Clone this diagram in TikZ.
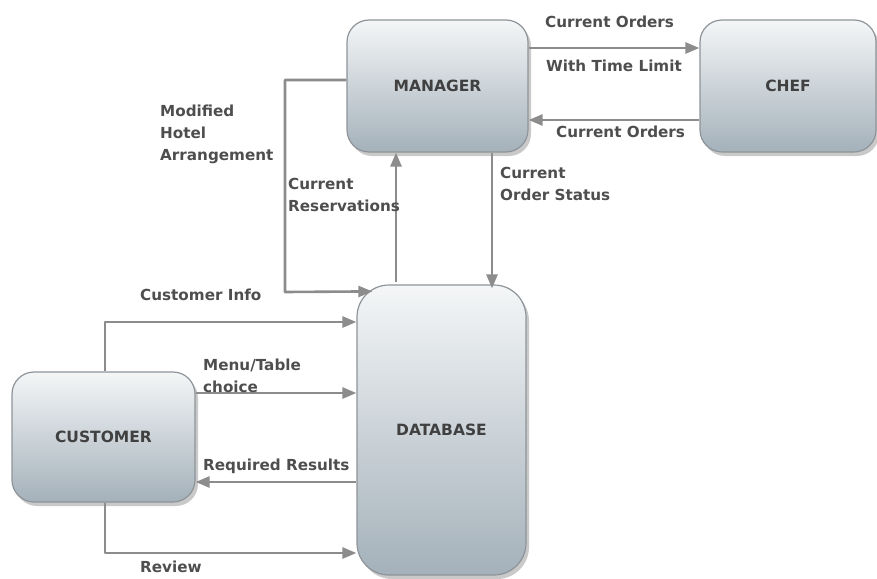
\documentclass[tikz,border=0pt]{standalone}
\usepackage{fontspec}
\setmainfont{DejaVu Sans}
\usepackage{xcolor}
\usetikzlibrary{arrows.meta,calc,shadows}
\definecolor{boxtop}{HTML}{F4F6F7}
\definecolor{boxbot}{HTML}{A4B1BA}
\definecolor{boxline}{HTML}{8E9499}
\definecolor{flowgray}{HTML}{8C8C8C}
\definecolor{txtgray}{HTML}{4E4E4E}

\begin{document}
\begin{tikzpicture}[x=1pt,y=-1pt,>={Triangle[length=14pt,width=11pt]},line join=round,
  proc/.style={rectangle,rounded corners=22pt,draw=boxline,line width=1.2pt,
    top color=boxtop,bottom color=boxbot,
    drop shadow={shadow xshift=3pt,shadow yshift=-4pt,opacity=.3,fill=black!70},
    font=\fontsize{15.5}{18}\selectfont\bfseries,text=black!75},
  flow/.style={->,draw=flowgray,line width=2.6pt},
  lbl/.style={anchor=west,inner sep=0pt,align=left,text=txtgray,
    font=\fontsize{15.2}{22}\selectfont\bfseries}]
  \useasboundingbox (0,0) rectangle (877,578);
  \node[proc,minimum width=181pt,minimum height=132pt] (MGR) at (437.5,86) {MANAGER};
  \node[proc,minimum width=176pt,minimum height=132pt] (CHEF) at (788,86) {CHEF};
  \node[proc,minimum width=183pt,minimum height=130pt] (CUST) at (103.5,437) {CUSTOMER};
  \node[proc,rounded corners=32pt,minimum width=169pt,minimum height=290pt] (DB) at (441.5,430) {DATABASE};
  \coordinate (MH1) at (285,80);
  \coordinate (MH2) at (285,292);
  \coordinate (DBC) at ($(DB.north west)+(16,7)$);
  \draw[flow] ($(MGR.east)+(0,-38)$) -- ($(CHEF.west)+(0,-38)$);
  \draw[flow] ($(CHEF.west)+(0,34)$) -- ($(MGR.east)+(0,34)$);
  \draw[flow] ($(MGR.south)+(54.5,0)$) -- ($(DB.north)+(50.5,4)$);
  \draw[flow] ($(DB.north)+(-45.5,-2)$) -- ($(MGR.south)+(-41.5,0)$);
  \draw[flow] (MGR.west |- MH1) -- (MH1) -- (MH2) -- (DBC);
  \draw[flow] ($(CUST.north)+(1.5,0)$) |- ($(DB.west)+(0,-108)$);
  \draw[flow] ($(CUST.east)+(0,-44)$) -- ($(DB.west)+(0,-37)$);
  \draw[flow] ($(DB.west)+(0,52)$) -- ($(CUST.east)+(0,45)$);
  \draw[flow] ($(CUST.south)+(1.5,0)$) |- ($(DB.west)+(0,123)$);
  \node[lbl] (L1) at (545,22) {Current Orders};
  \node[lbl] (L2) at (546,66) {With Time Limit};
  \node[lbl] (L3) at (556,132) {Current Orders};
  \node[lbl] (L4) at (500,184) {Current\\Order Status};
  \node[lbl] (L5) at (288,195) {Current\\Reservations};
  \node[lbl] (L6) at (160,134) {Modified\\Hotel\\Arrangement};
  \node[lbl] (L7) at (140,295) {Customer Info};
  \node[lbl] (L8) at (203,375.5) {Menu/Table\\choice};
  \node[lbl] (L9) at (203,466) {Required Results};
  \node[lbl] (L10) at (140,567) {Review};
\end{tikzpicture}
\end{document}
